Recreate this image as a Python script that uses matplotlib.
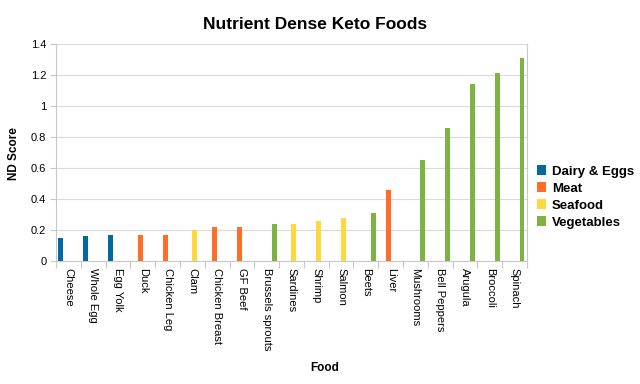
import matplotlib
matplotlib.use("Agg")
import matplotlib.pyplot as plt
import numpy as np
from matplotlib.ticker import FuncFormatter, FixedLocator, NullFormatter
from matplotlib.patches import Patch

plt.rcParams['font.family'] = ['Liberation Sans', 'DejaVu Sans']

# data
foods = ["Cheese", "Whole Egg", "Egg Yolk", "Duck", "Chicken Leg", "Clam",
         "Chicken Breast", "GF Beef", "Brussels sprouts", "Sardines", "Shrimp",
         "Salmon", "Beets", "Liver", "Mushrooms", "Bell Peppers", "Arugula",
         "Broccoli", "Spinach"]
groups = ["Dairy & Eggs", "Meat", "Seafood", "Vegetables"]
food_group = ["Dairy & Eggs", "Dairy & Eggs", "Dairy & Eggs", "Meat", "Meat",
              "Seafood", "Meat", "Meat", "Vegetables", "Seafood", "Seafood",
              "Seafood", "Vegetables", "Meat", "Vegetables", "Vegetables",
              "Vegetables", "Vegetables", "Vegetables"]
nd_score = [0.15, 0.16, 0.17, 0.17, 0.17, 0.20, 0.22, 0.22, 0.24, 0.24, 0.26,
            0.28, 0.31, 0.46, 0.65, 0.86, 1.14, 1.21, 1.31]
colors = ["#0369a3", "#ff6d28", "#ffd83d", "#7cb342"]

fig = plt.figure(figsize=(6.4, 3.84), dpi=100)
ax = fig.add_axes([0.0875, 0.3203, 0.7359, 0.5651])

x = np.arange(len(foods))
bw = 0.2
for gi, (g, c) in enumerate(zip(groups, colors)):
    vals = [v if fg == g else 0 for v, fg in zip(nd_score, food_group)]
    ax.bar(x - 0.3 + gi * bw, vals, width=bw, color=c, edgecolor='none', zorder=3)

ax.set_xlim(-0.5, len(foods) - 0.5)
ax.set_ylim(0, 1.4)
ax.set_yticks(np.arange(0, 1.41, 0.2))
ax.yaxis.set_major_formatter(FuncFormatter(lambda v, p: "%g" % round(v, 1)))
ax.grid(axis='y', color='#dadada', linewidth=0.8, zorder=0)

# category labels centred, ticks between categories
ax.set_xticks(x)
ax.set_xticklabels(foods, rotation=270, fontsize=8, va='top', ha='center')
ax.tick_params(axis='x', length=0, pad=5)
ax.xaxis.set_minor_locator(FixedLocator(np.arange(-0.5, len(foods), 1)))
ax.xaxis.set_minor_formatter(NullFormatter())
ax.tick_params(axis='x', which='minor', length=5, color='#c8c8c8', width=0.8)
ax.tick_params(axis='y', length=4, color='#c8c8c8', width=0.8, labelsize=8, pad=3)

for s in ['left', 'bottom', 'right', 'top']:
    ax.spines[s].set_color('#c8c8c8')
    ax.spines[s].set_linewidth(0.8)
ax.spines['top'].set_visible(False)

fig.text(0.492, 0.935, "Nutrient Dense Keto Foods", ha='center', va='center',
         fontsize=12.5, fontweight='bold')
fig.text(0.022, 0.6, "ND Score", ha='center', va='center', rotation=90,
         fontsize=8.5, fontweight='bold')
fig.text(0.508, 0.042, "Food", ha='center', va='center',
         fontsize=8.5, fontweight='bold')

handles = [Patch(facecolor=c, edgecolor='none') for c in colors]
fig.legend(handles, groups, loc='center left', bbox_to_anchor=(0.828, 0.487),
           frameon=False, prop={'size': 9.5, 'weight': 'bold'},
           handlelength=0.75, handleheight=0.75, handletextpad=0.4,
           labelspacing=0.35, borderpad=0)

fig.savefig("out.png", dpi=100)
